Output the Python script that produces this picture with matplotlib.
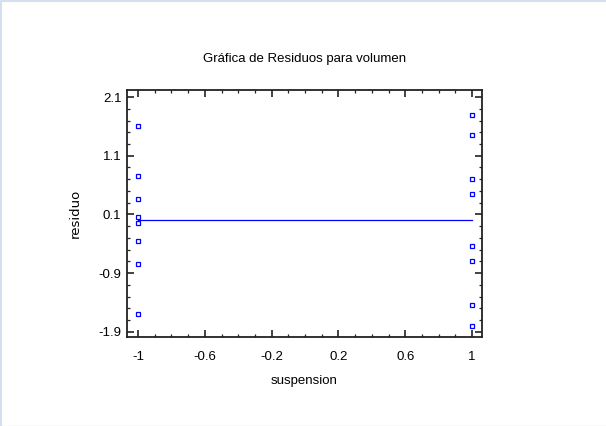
import matplotlib
matplotlib.use("Agg")
import matplotlib.pyplot as plt
from matplotlib.ticker import MultipleLocator, FixedLocator
from matplotlib.lines import Line2D

plt.rcParams['font.family'] = ['Liberation Sans Narrow', 'Liberation Sans', 'DejaVu Sans']

# residuals
x_left = [-1, -1, -1, -1, -1, -1, -1, -1]
res_left = [1.60, 0.75, 0.36, 0.06, -0.05, -0.35, -0.75, -1.60]
x_right = [1, 1, 1, 1, 1, 1, 1, 1]
res_right = [1.80, 1.45, 0.71, 0.45, -0.44, -0.70, -1.45, -1.80]

x_ticks = [-1, -0.6, -0.2, 0.2, 0.6, 1]
y_ticks = [-1.9, -0.9, 0.1, 1.1, 2.1]

fig = plt.figure(figsize=(6.06, 4.26), dpi=100)
# light blue frame on left/top, grey line at bottom
fig.lines.append(Line2D([0.0015, 0.0015, 1], [0, 0.9975, 0.9975], transform=fig.transFigure,
                        color='#d3e0f0', lw=1.5))
fig.lines.append(Line2D([0, 1], [0.001, 0.001], transform=fig.transFigure,
                        color='#e6e6e6', lw=1))

ax = fig.add_axes([0.2096, 0.2089, 0.5858, 0.5798])
ax.plot(x_left, res_left, 's', ms=2.5, mfc='none', mec='#0000ff', mew=0.9)
ax.plot(x_right, res_right, 's', ms=2.5, mfc='none', mec='#0000ff', mew=0.9)
ax.plot([-1, 1], [0, 0], color='#0000ff', lw=0.9)

ax.set_xlim(-1.066, 1.06)
ax.set_ylim(-1.99, 2.22)

ax.xaxis.set_major_locator(FixedLocator(x_ticks))
ax.xaxis.set_minor_locator(MultipleLocator(0.1))
ax.yaxis.set_major_locator(FixedLocator(y_ticks))
ax.yaxis.set_minor_locator(FixedLocator([-1.9 + 0.2 * i for i in range(21)]))
ax.set_xticklabels(['-1', '-0.6', '-0.2', '0.2', '0.6', '1'])
ax.set_yticklabels(['-1.9', '-0.9', '0.1', '1.1', '2.1'])

ax.tick_params(which='both', direction='in', top=True, right=True,
               labelsize=9.5, color='#222222')
ax.tick_params(which='major', length=5, width=1.2, pad=4)
ax.tick_params(which='minor', length=2.5, width=0.9)
ax.tick_params(axis='x', which='major', pad=10)
for s in ax.spines.values():
    s.set_linewidth(1.3)
    s.set_color('#222222')

ax.set_title("Gráfica de Residuos para volumen", fontsize=9.5, pad=20)
ax.set_xlabel("suspension", fontsize=9.5, labelpad=9)
ax.set_ylabel("residuo", fontsize=9.5, labelpad=12, family=['DejaVu Sans'])

fig.savefig("out.png", dpi=100, facecolor='white')
